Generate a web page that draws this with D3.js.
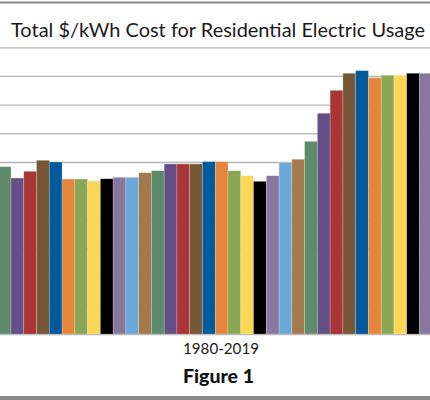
<!DOCTYPE html>
<html>
<head>
<meta charset="utf-8">
<script src="https://cdn.jsdelivr.net/npm/d3@7/dist/d3.min.js"></script>
<style>
  html, body { margin: 0; padding: 0; background: #fff; }
  svg { display: block; }
</style>
</head>
<body>
<script>
// ---- data (visible years of the 1980–2019 series) ----
const years = [1986,1987,1988,1989,1990,1991,1992,1993,1994,1995,1996,1997,
               1998,1999,2000,2001,2002,2003,2004,2005,2006,2007,2008,2009,
               2010,2011,2012,2013,2014,2015,2016,2017,2018,2019];
const costPerKWh = [0.1167,0.1088,0.1135,0.1212,0.1200,0.1081,0.1081,0.1067,0.1083,0.1093,0.1093,0.1125,
                    0.1139,0.1186,0.1186,0.1186,0.1202,0.1202,0.1139,0.1104,0.1065,0.1104,0.1195,0.1219,
                    0.1344,0.1540,0.1700,0.1819,0.1837,0.1788,0.1805,0.1805,0.1819,0.1819];
const gridTicks = [0,0.02,0.04,0.06,0.08,0.10,0.12,0.14,0.16,0.18,0.20];
const titleText = "Total $/kWh Cost for Residential Electric Usage";
const xLabel = "1980-2019";
const figLabel = "Figure 1";

// ---- style ----
const palette = ["#5e8c6a","#654f86","#a93537","#775836","#005a9c","#e5863c",
                 "#8aa756","#fcd757","#000000","#8878a0","#6aa8d9","#a47a4c"];

const W = 430, H = 400;
const svg = d3.select("body").append("svg").attr("width", W).attr("height", H);

const step = 12.765;
const x0 = -1.76;
const x = d3.scaleBand().domain(years).range([x0, x0 + step * years.length]).padding(0);
const y = d3.scaleLinear().domain([0, 0.20]).range([334, 47.3]);

// top border
svg.append("line").attr("x1", 0).attr("x2", W).attr("y1", 2.5).attr("y2", 2.5)
  .attr("stroke", "#8a8a8a").attr("stroke-width", 2);

// gridlines
const grid = svg.append("g")
  .call(d3.axisLeft(y).tickValues(gridTicks).tickSize(-W).tickFormat(""));
grid.select(".domain").remove();
grid.selectAll(".tick line").attr("stroke", "#b3b3b3").attr("stroke-width", 1.3);

// bars
svg.append("g").selectAll("rect").data(years).join("rect")
  .attr("x", d => x(d))
  .attr("width", x.bandwidth())
  .attr("y", (d, i) => y(costPerKWh[i]))
  .attr("height", (d, i) => y(0) - y(costPerKWh[i]))
  .attr("fill", (d, i) => palette[i % palette.length])
  .attr("stroke", "rgba(255,255,255,0.35)")
  .attr("stroke-width", 0.6);

// title
svg.append("text").text(titleText)
  .attr("x", 11).attr("y", 36.5)
  .attr("font-family", "Lato, 'Open Sans', sans-serif")
  .attr("font-size", 19.8)
  .attr("fill", "#1a1a1a")
  .attr("textLength", 414).attr("lengthAdjust", "spacingAndGlyphs");

// x label
svg.append("text").text(xLabel)
  .attr("x", 221).attr("y", 353.5).attr("text-anchor", "middle")
  .attr("font-family", "Lato, 'Open Sans', sans-serif")
  .attr("font-size", 14.5)
  .attr("fill", "#1a1a1a")
  .attr("textLength", 76).attr("lengthAdjust", "spacingAndGlyphs");

// figure label
svg.append("text").text(figLabel)
  .attr("x", 218.5).attr("y", 383).attr("text-anchor", "middle")
  .attr("font-family", "Lato, 'Open Sans', sans-serif")
  .attr("font-weight", "900")
  .attr("font-size", 19.5)
  .attr("fill", "#111")
  .attr("textLength", 71).attr("lengthAdjust", "spacingAndGlyphs");

// bottom border
svg.append("rect").attr("x", 0).attr("y", 396).attr("width", W).attr("height", 4)
  .attr("fill", "#8a8a8a");
</script>
</body>
</html>
